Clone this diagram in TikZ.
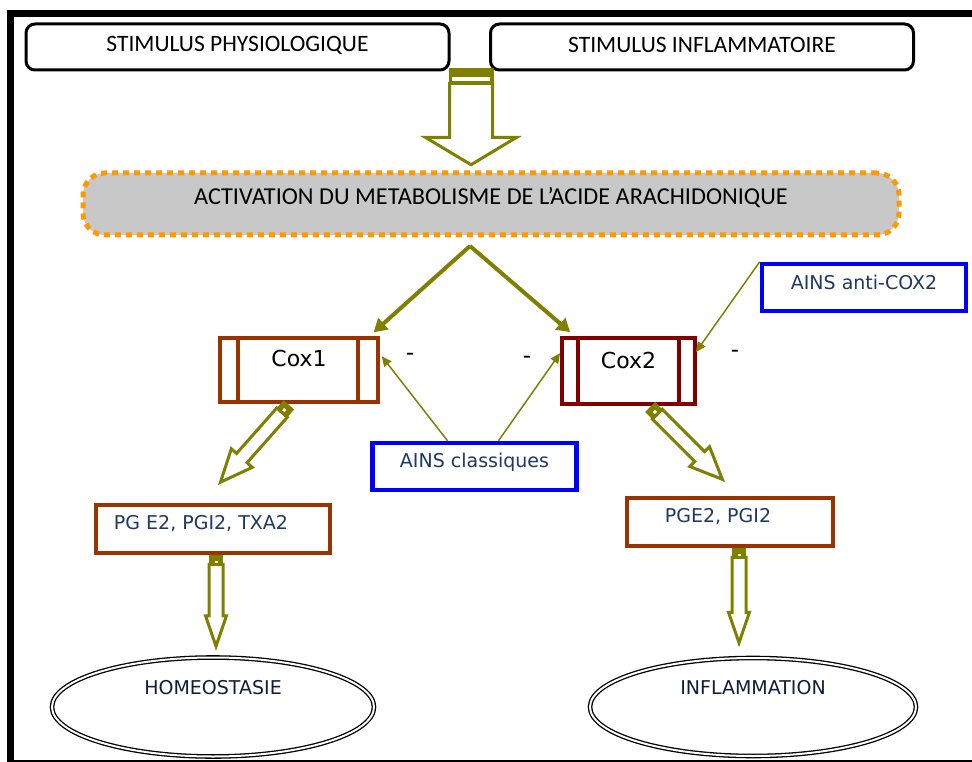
\documentclass[tikz,border=0pt]{standalone}
\usepackage{fontspec}
\setmainfont{Carlito}
\newfontfamily\vfont{DejaVu Sans}
\usetikzlibrary{shapes.arrows,shapes.geometric,arrows.meta,calc}
\definecolor{olv}{HTML}{808000}
\definecolor{orng}{HTML}{FF9900}
\definecolor{gry}{HTML}{C8C8C8}
\definecolor{brn}{HTML}{993300}
\definecolor{mar}{HTML}{800000}
\definecolor{blu}{HTML}{0000FF}
\definecolor{navy}{HTML}{1F3864}
\definecolor{dnavy}{HTML}{0F1F3A}
\newcommand\fsz[1]{\fontsize{#1}{#1}\selectfont}
\begin{document}
\begin{tikzpicture}[x=1pt,y=-1pt,
  stimbox/.style={draw, line width=3, rounded corners=9, minimum width=423, minimum height=46, inner sep=0},
  coxbox/.style={draw, line width=3.5, inner sep=0},
  ainsbox/.style={draw=blu, line width=4.5, inner sep=0, minimum width=204, minimum height=47},
  pgbox/.style={draw=brn, line width=4, inner sep=0, minimum height=48},
  ell/.style={ellipse, draw, double, line width=1.3, double distance=2, inner sep=0},
  harrow/.style={single arrow, draw=olv, line width=3, fill=white, inner xsep=0pt, single arrow head indent=0pt},
  blk/.style={fill=olv, inner sep=0, minimum width=14, minimum height=14,
     path picture={\fill[white] ([xshift=-1.5pt,yshift=-1.5pt]path picture bounding box.center) rectangle ([xshift=1.5pt,yshift=1.5pt]path picture bounding box.center);}},
  thickarr/.style={olv, line width=4, -{Triangle[length=13pt,width=15pt]}},
  thinarr/.style={olv, line width=1.5, -{Triangle[length=10pt,width=9pt]}},
  minus/.style={font=\vfont\fsz{23}, inner sep=0},
  txtv/.style={font=\vfont\fsz{19}, text=navy}
]
\useasboundingbox (0,0) rectangle (972,762);
\fill[white] (0,0) rectangle (972,762);
\draw[line width=7] (10,14) rectangle (1000,763);

% top boxes
\node[stimbox, label={[yshift=2pt,font=\fsz{23.5}]center:STIMULUS PHYSIOLOGIQUE}] (s1) at (237.5,47) {};
\node[stimbox, label={[yshift=2pt,font=\fsz{23.5}]center:STIMULUS INFLAMMATOIRE}] (s2) at (702,47) {};

% activation
\node[rectangle, rounded corners=22, fill=gry, draw=orng, dash pattern=on 6pt off 5pt, line width=5,
      minimum width=816, minimum height=62, inner sep=0,
      label={[yshift=6pt,font=\fsz{24.3}]center:ACTIVATION DU METABOLISME DE L’ACIDE ARACHIDONIQUE}] (act) at (491,204) {};

% top hollow arrow
\node[fill=olv, inner sep=0, minimum width=45, minimum height=17,
   path picture={\fill[white] ([xshift=-19pt,yshift=-4.5pt]path picture bounding box.center) rectangle ([xshift=19pt,yshift=-0.5pt]path picture bounding box.center);}] (b0) at (471,76.5) {};
\coordinate (t0) at ([xshift=-20pt,yshift=4pt]act.north);
\path let \p1=($(b0.south)-(t0)$), \n1={veclen(\x1,\y1)} in (b0.south) -- (t0)
   node[pos=1, sloped, allow upside down, anchor=tip, harrow, inner ysep=20pt,
        single arrow head extend=24pt, single arrow tip angle=118, minimum height=\n1] (a0) {};

% cox boxes
\node[coxbox, draw=brn, minimum width=158, minimum height=64,
  path picture={\draw[brn,line width=3.5] ([xshift=18pt]path picture bounding box.north west) -- ([xshift=18pt]path picture bounding box.south west)
     ([xshift=-20pt]path picture bounding box.north east) -- ([xshift=-20pt]path picture bounding box.south east);},
  label={[yshift=12pt,font=\vfont\fsz{22}]center:Cox1}] (cox1) at (299,370) {};
\node[coxbox, draw=mar, line width=3.8, minimum width=133, minimum height=66,
  path picture={\draw[mar,line width=3.8] ([xshift=16pt]path picture bounding box.north west) -- ([xshift=16pt]path picture bounding box.south west)
     ([xshift=-16pt]path picture bounding box.north east) -- ([xshift=-16pt]path picture bounding box.south east);},
  label={[yshift=11pt,font=\vfont\fsz{22}]center:Cox2}] (cox2) at (628.5,371) {};

\node[minus] (m1) at (410,357) {-};
\node[minus] (m2) at (527,360) {-};
\node[minus] (m3) at (735,354) {-};

% apex arrows
\coordinate (apex) at (470,246);
\draw[thickarr] (apex) -- ([xshift=-6pt,yshift=4pt]cox1.north east);
\draw[thickarr] (apex) -- ([xshift=10pt,yshift=4pt]cox2.north west);

% AINS boxes
\node[ainsbox, label={[yshift=4.5pt,txtv]center:AINS classiques}] (ainsc) at (474.5,466.5) {};
\node[ainsbox, label={[yshift=5.5pt,txtv]center:AINS anti-COX2}] (ainsa) at (864,287.5) {};
\draw[thinarr] ([xshift=-27pt]ainsc.north) -- ([xshift=2pt,yshift=-20pt]cox1.north east);
\draw[thinarr] ([xshift=24pt]ainsc.north) -- ([yshift=-17pt]cox2.north west);
\draw[thinarr] (ainsa.north west) -- ([xshift=-1pt,yshift=-16pt]cox2.north east);

% PG boxes
\node[pgbox, minimum width=234, label={[xshift=-12pt,yshift=5pt,txtv]center:PG E2, PGI2, TXA2}] (pg1) at (213,529) {};
\node[pgbox, minimum width=206, label={[xshift=-12pt,yshift=5pt,txtv]center:PGE2, PGI2}] (pg2) at (730,522) {};

% ellipses
\node[ell, minimum width=322, minimum height=99, label={[yshift=19pt,font=\vfont\fsz{19},text=dnavy]center:HOMEOSTASIE}] (home) at (213,707) {};
\node[ell, minimum width=326, minimum height=98, label={[yshift=19pt,font=\vfont\fsz{19},text=dnavy]center:INFLAMMATION}] (infl) at (753,707) {};

% hollow arrows cox -> PG
\coordinate (s1a) at ([xshift=-10pt,yshift=-1pt]cox1.south);
\coordinate (t1a) at ([xshift=5pt,yshift=18pt]pg1.north);
\path let \p1=($(s1a)-(t1a)$), \n1={veclen(\x1,\y1)} in (s1a) -- (t1a)
  node[pos=0, sloped, allow upside down, anchor=west, blk] (bk1) {}
  node[pos=1, sloped, allow upside down, anchor=tip, harrow, inner ysep=5.5pt, single arrow head extend=7pt, single arrow tip angle=47, minimum height=\n1-14pt] (ar1) {};
\coordinate (s2a) at ([xshift=21.5pt,yshift=-1pt]cox2.south);
\coordinate (t2a) at ([xshift=-5pt,yshift=14pt]pg2.north);
\path let \p1=($(s2a)-(t2a)$), \n1={veclen(\x1,\y1)} in (s2a) -- (t2a)
  node[pos=0, sloped, allow upside down, anchor=west, blk] (bk2) {}
  node[pos=1, sloped, allow upside down, anchor=tip, harrow, inner ysep=5.5pt, single arrow head extend=7pt, single arrow tip angle=47, minimum height=\n1-14pt] (ar2) {};

% hollow arrows PG -> ellipses
\coordinate (s3a) at ([xshift=3pt]pg1.south);
\coordinate (t3a) at ([xshift=3pt,yshift=6pt]home.north);
\path let \p1=($(s3a)-(t3a)$), \n1={veclen(\x1,\y1)} in (s3a) -- (t3a)
  node[pos=0, sloped, allow upside down, anchor=west, blk] (bk3) {}
  node[pos=1, sloped, allow upside down, anchor=tip, harrow, inner ysep=5.5pt, single arrow head extend=3.5pt, single arrow tip angle=38, minimum height=\n1-14pt] (ar3) {};
\coordinate (s4a) at ([xshift=9pt]pg2.south);
\coordinate (t4a) at ([xshift=-14pt,yshift=10pt]infl.north);
\path let \p1=($(s4a)-(t4a)$), \n1={veclen(\x1,\y1)} in (s4a) -- (t4a)
  node[pos=0, sloped, allow upside down, anchor=west, blk] (bk4) {}
  node[pos=1, sloped, allow upside down, anchor=tip, harrow, inner ysep=5.5pt, single arrow head extend=3.5pt, single arrow tip angle=38, minimum height=\n1-14pt] (ar4) {};
\end{tikzpicture}
\end{document}
